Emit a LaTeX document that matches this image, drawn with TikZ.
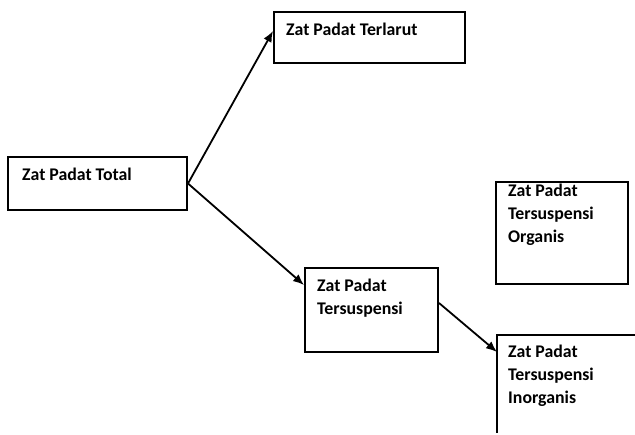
\documentclass[tikz,border=0pt]{standalone}
\usepackage{fontspec}
\setmainfont{Carlito}
\usetikzlibrary{arrows.meta}
\begin{document}
\begin{tikzpicture}[x=1pt,y=-1pt,
  box/.style={draw=black,line width=2pt,rectangle,inner sep=0pt},
  lbl/.style={anchor=base west,inner sep=0pt,align=left,
    font=\fontsize{17.8pt}{23pt}\selectfont\bfseries},
  conn/.style={line width=1.8pt,-{Latex[length=11pt,width=9pt]}}]
\useasboundingbox[fill=white] (0,0) rectangle (635,435);
% boxes
\node[box,minimum width=179pt,minimum height=53pt] (tot) at (97.5,183.5) {};
\node[box,minimum width=191pt,minimum height=51pt] (ter) at (369.5,37.5) {};
\node[box,minimum width=133pt,minimum height=84pt] (sus) at (371.5,310) {};
\node[box,minimum width=132pt,minimum height=102pt] (org) at (562,233) {};
\coordinate (inorgTR) at (635,335);
\coordinate (inorgTL) at (497,335);
\coordinate (inorgBL) at (497,433);
\coordinate (inorgIn) at (497,352);
\draw[line width=2pt] (inorgTR) -- (inorgTL) -- (inorgBL);
% labels (base anchor = baseline of last line)
\node[lbl] (totL) at (22,181) {Zat Padat Total};
\node[lbl] (terL) at (286,36) {Zat Padat Terlarut};
\node[lbl] (susL) at (317,315) {Zat Padat\\Tersuspensi};
\node[lbl] (orgL) at (508,243) {Zat Padat\\Tersuspensi\\Organis};
\node[lbl] (inorgL) at (508,404) {Zat Padat\\Tersuspensi\\Inorganis};
% connectors
\draw[conn] (tot.east) -- ([yshift=6.5pt]ter.west);
\draw[conn] (tot.east) -- ([yshift=25pt]sus.west);
\draw[conn] ([yshift=7pt]sus.east) -- (inorgIn);
\end{tikzpicture}
\end{document}
